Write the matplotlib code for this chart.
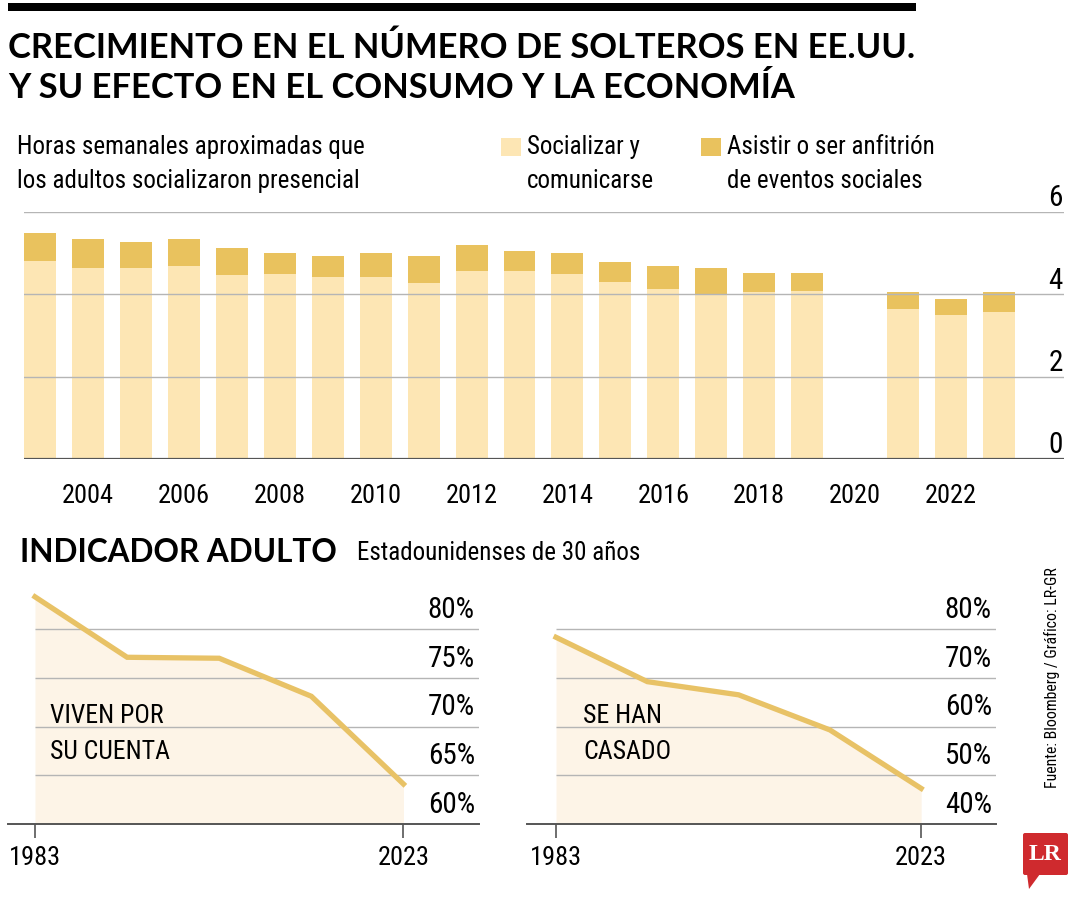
import matplotlib
matplotlib.use("Agg")
import matplotlib.pyplot as plt
from matplotlib.patches import Rectangle, Polygon, FancyBboxPatch

# datos: horas semanales socializando en persona
anios = [2003, 2004, 2005, 2006, 2007, 2008, 2009, 2010, 2011, 2012,
         2013, 2014, 2015, 2016, 2017, 2018, 2019, 2021, 2022, 2023]
socializar = [4.81, 4.63, 4.63, 4.70, 4.48, 4.49, 4.43, 4.42, 4.28, 4.57,
              4.57, 4.50, 4.29, 4.12, 3.99, 4.05, 4.07, 3.64, 3.50, 3.58]
eventos = [0.68, 0.71, 0.63, 0.64, 0.65, 0.52, 0.49, 0.58, 0.65, 0.63,
           0.49, 0.50, 0.49, 0.56, 0.64, 0.46, 0.44, 0.41, 0.38, 0.47]
anios_ticks = [2004, 2006, 2008, 2010, 2012, 2014, 2016, 2018, 2020, 2022]
horas_ticks = [0, 2, 4, 6]

# indicador adulto (estadounidenses de 30 años)
decadas = [1983, 1993, 2003, 2013, 2023]
viven_solos = [83.3, 77.1, 77.0, 73.1, 64.1]
casados = [78.3, 69.2, 66.5, 59.3, 47.3]
ticks_solos = [60, 65, 70, 75, 80]
ticks_casados = [40, 50, 60, 70, 80]

CLARO = "#FDE6B4"
OSCURO = "#E9C25E"
LINEA = "#E8C266"
AREA = "#FDF4E7"
GRIS = "#B5B5B5"
EJE = "#555555"

NARROW = ["Roboto Condensed", "Roboto", "DejaVu Sans"]
BOLD = ["Lato", "DejaVu Sans"]

W, H = 1080, 900


def fx(px):
    return px / W


def fy(py):
    return 1 - py / H


def caja(x0, x1, ytop, ybot):
    return [fx(x0), fy(ybot), (x1 - x0) / W, (ybot - ytop) / H]


fig = plt.figure(figsize=(10.8, 9), dpi=100)
fig.patch.set_facecolor("white")

# barra negra superior
fig.add_artist(Rectangle((fx(8), fy(11)), (916 - 8) / W, 8 / H,
                         transform=fig.transFigure, color="black", lw=0))

# titulo
fig.text(fx(8), fy(48), "CRECIMIENTO EN EL NÚMERO DE SOLTEROS EN EE.UU.",
         family=BOLD, weight="bold", size=24.8, va="center", ha="left")
fig.text(fx(8), fy(88), "Y SU EFECTO EN EL CONSUMO Y LA ECONOMÍA",
         family=BOLD, weight="bold", size=24.8, va="center", ha="left")

# subtitulo y leyenda
fig.text(fx(17), fy(147), "Horas semanales aproximadas que",
         family=NARROW, size=18, va="center")
fig.text(fx(17), fy(181), "los adultos socializaron presencial",
         family=NARROW, size=18, va="center")

for x0, col, l1, l2 in [(501, CLARO, "Socializar y", "comunicarse"),
                        (701, OSCURO, "Asistir o ser anfitrión", "de eventos sociales")]:
    fig.add_artist(Rectangle((fx(x0), fy(156)), 20 / W, 18 / H,
                             transform=fig.transFigure, color=col, lw=0))
    fig.text(fx(x0 + 26), fy(147), l1, family=NARROW, size=18, va="center")
    fig.text(fx(x0 + 26), fy(181), l2, family=NARROW, size=18, va="center")

# grafico de barras
ax = fig.add_axes(caja(24, 1064, 212, 459))
ax.bar(anios, socializar, width=0.667, color=CLARO, lw=0, zorder=2)
ax.bar(anios, eventos, bottom=socializar, width=0.667, color=OSCURO, lw=0, zorder=2)
ax.set_xlim(2002.666, 2024.356)
ax.set_ylim(0, 6)
for v in horas_ticks[1:]:
    ax.axhline(v, color=GRIS, lw=1, zorder=3)
ax.axhline(0, color=EJE, lw=1.6, zorder=4)
for v in horas_ticks:
    ax.annotate(str(v), xy=(1, v), xycoords=("axes fraction", "data"),
                xytext=(-1, 4), textcoords="offset points",
                ha="right", va="baseline", family=NARROW, size=21)
for s in ax.spines.values():
    s.set_visible(False)
ax.set_yticks([])
ax.set_xticks(anios_ticks)
ax.set_xticklabels([str(a) for a in anios_ticks], family=NARROW, size=19)
ax.tick_params(axis="x", length=0, pad=18)
ax.set_facecolor("none")

# indicador adulto
fig.text(fx(20), fy(553), "INDICADOR ADULTO", family=BOLD, weight="bold",
         size=22.7, va="center")
fig.text(fx(357), fy(553), "Estadounidenses de 30 años", family=NARROW,
         size=18, va="center")


def panel(pos, xlim, ylim, serie, ticks):
    a = fig.add_axes(pos)
    a.set_xlim(*xlim)
    a.set_ylim(*ylim)
    a.fill_between(decadas, serie, ylim[0], color=AREA, lw=0, zorder=1)
    a.hlines(ticks[1:], decadas[0], xlim[1], color=GRIS, lw=1, zorder=2)
    a.plot(decadas, serie, color=LINEA, lw=3.8, solid_joinstyle="miter", zorder=3)
    for v in ticks:
        a.annotate("%d%%" % v, xy=(1, v), xycoords=("axes fraction", "data"),
                   xytext=(-3, 8), textcoords="offset points",
                   ha="right", va="baseline", family=NARROW, size=21)
    for k, s in a.spines.items():
        s.set_visible(k == "bottom")
    a.spines["bottom"].set_color(EJE)
    a.spines["bottom"].set_linewidth(1.4)
    a.set_yticks([])
    a.set_xticks([decadas[0], decadas[-1]])
    a.set_xticklabels([str(decadas[0]), str(decadas[-1])], family=NARROW, size=19)
    a.tick_params(axis="x", direction="out", length=10, width=1.2, color=EJE, pad=6)
    a.set_facecolor("none")
    return a


panel(caja(8, 479, 590, 824), (1980.07, 2031.2), (60, 84), viven_solos, ticks_solos)
panel(caja(527, 996, 590, 824), (1979.82, 2031.2), (40, 88), casados, ticks_casados)

for x0, l1, l2 in [(50, "VIVEN POR", "SU CUENTA"), (583, "SE HAN", "CASADO")]:
    fig.text(fx(x0), fy(716), l1, family=NARROW, size=18.5, va="center")
    fig.text(fx(x0), fy(752), l2, family=NARROW, size=18.5, va="center")

# fuente
fig.text(fx(1052), fy(678), "Fuente: Bloomberg / Gráfico: LR-GR", rotation=90,
         family=NARROW, size=11.3, ha="center", va="center")

# logo LR
lg = fig.add_axes(caja(1020, 1070, 830, 892))
lg.set_xlim(1020, 1070)
lg.set_ylim(892, 830)
lg.axis("off")
lg.add_patch(FancyBboxPatch((1023, 833), 45, 42, boxstyle="round,pad=0,rounding_size=2",
                            color="#CF2A2E", lw=0))
lg.add_patch(Polygon([(1027, 874), (1040, 874), (1029, 889)], closed=True,
                     color="#CF2A2E", lw=0))
lg.text(1045.5, 855, "LR", color="white", family=["Liberation Serif", "DejaVu Serif"],
        weight="bold", size=17, ha="center", va="center")

fig.savefig("out.png", dpi=100, facecolor="white")
